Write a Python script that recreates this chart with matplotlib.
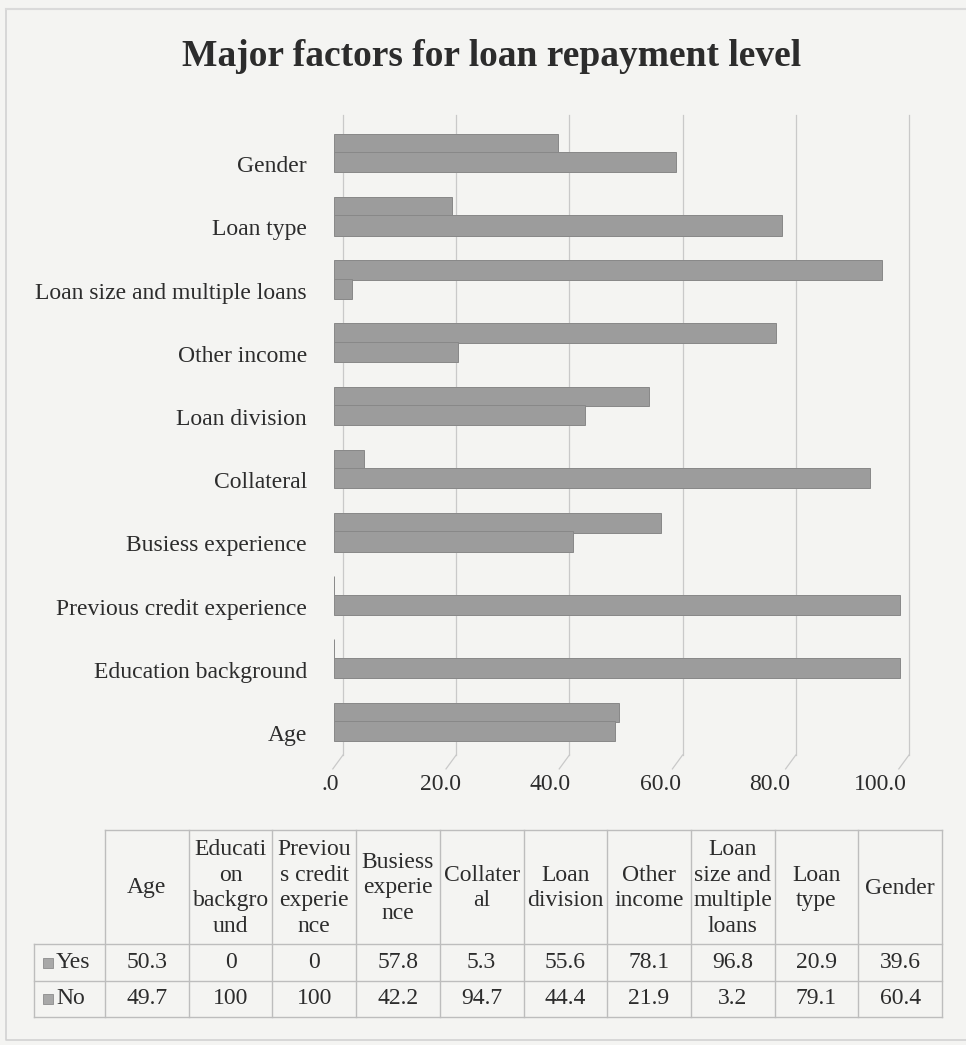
import numpy as np
import matplotlib
matplotlib.use('Agg')
import matplotlib.pyplot as plt

plt.rcParams['font.family'] = ['Liberation Serif', 'DejaVu Serif']

# Datos
factores = ['Age', 'Education background', 'Previous credit experience',
            'Busiess experience', 'Collateral', 'Loan division', 'Other income',
            'Loan size and multiple loans', 'Loan type', 'Gender']
enc_tabla = ['Age', 'Educati\non\nbackgro\nund', 'Previou\ns credit\nexperie\nnce',
             'Busiess\nexperie\nnce', 'Collater\nal', 'Loan\ndivision', 'Other\nincome',
             'Loan\nsize and\nmultiple\nloans', 'Loan\ntype', 'Gender']
yes = [50.3, 0, 0, 57.8, 5.3, 55.6, 78.1, 96.8, 20.9, 39.6]
no = [49.7, 100, 100, 42.2, 94.7, 44.4, 21.9, 3.2, 79.1, 60.4]
yes_txt = ['50.3', '0', '0', '57.8', '5.3', '55.6', '78.1', '96.8', '20.9', '39.6']
no_txt = ['49.7', '100', '100', '42.2', '94.7', '44.4', '21.9', '3.2', '79.1', '60.4']
xticks = [0, 20, 40, 60, 80, 100]
xtick_lab = ['.0', '20.0', '40.0', '60.0', '80.0', '100.0']

fondo = '#f4f4f2'
gris_barra = '#9c9c9c'
gris_borde = '#888888'
gris_linea = '#c9c9c9'
txt_col = '#2c2c2c'

W, H = 966, 1045
fig = plt.figure(figsize=(W / 100, H / 100), dpi=100)
fig.patch.set_facecolor(fondo)

# capa en pixeles para titulo, marco y tabla
ov = fig.add_axes([0, 0, 1, 1])
ov.set_xlim(0, W)
ov.set_ylim(H, 0)
ov.axis('off')
ov.patch.set_alpha(0)

ov.plot([6, 6, W + 5], [9, 1040, 1040], color='#d2d2d2', lw=1.2)
ov.plot([6, W + 5], [9, 9], color='#dadada', lw=1.5)

ov.text(492, 56, 'Major factors for loan repayment level', ha='center', va='center',
        fontsize=27, fontweight='bold', color=txt_col)

# Grafico de barras
pos = np.arange(len(factores))
ax = fig.add_axes([343 / W, 1 - 755 / H, 566 / W, 640 / H])
ax.patch.set_alpha(0)
for s in ax.spines.values():
    s.set_visible(False)
ax.set_xlim(0, 100)
ax.set_ylim(-0.35, 9.78)

ybot = -0.35
for v, lab in zip(xticks, xtick_lab):
    ax.plot([v, v], [ybot, 9.78], color=gris_linea, lw=0.9, zorder=0, clip_on=False)
    ax.plot([v, v - 1.8], [ybot, ybot - 0.22], color=gris_linea, lw=0.9, zorder=0,
            clip_on=False)
    ax.text(-2.3 + 0.972 * v, -0.82, lab, ha='center', va='center', fontsize=17,
            color=txt_col)

desp = -1.6
b1 = ax.barh(pos + 0.325, yes, height=0.31, left=desp, color=gris_barra,
             edgecolor=gris_borde, linewidth=0.7, zorder=2)
b2 = ax.barh(pos + 0.03, no, height=0.32, left=desp, color=gris_barra,
             edgecolor=gris_borde, linewidth=0.7, zorder=3)
for r in list(b1) + list(b2):
    r.set_clip_on(False)

ax.set_xticks([])
ax.set_yticks(pos)
ax.set_yticklabels(factores, fontsize=17, color=txt_col)
ax.tick_params(axis='y', length=0, pad=26)

# Tabla de datos
x0, x1 = 105, 942
anc = (x1 - x0) / len(factores)
y_top, y_hdr, y_yes, y_no = 830, 944, 981, 1017
lc = '#bdbdbd'
for k in range(len(factores) + 1):
    xx = x0 + k * anc
    ov.plot([xx, xx], [y_top, y_no], color=lc, lw=1)
ov.plot([34, 34], [y_hdr, y_no], color=lc, lw=1)
ov.plot([x0, x1], [y_top, y_top], color=lc, lw=1)
for yy in (y_hdr, y_yes, y_no):
    ov.plot([34, x1], [yy, yy], color=lc, lw=1)

for k, (h, a, b) in enumerate(zip(enc_tabla, yes_txt, no_txt)):
    xc = x0 + (k + 0.5) * anc
    ov.text(xc, (y_top + y_hdr) / 2 + 1, h, ha='center', va='center', fontsize=17,
            color=txt_col, linespacing=1.3)
    ov.text(xc, (y_hdr + y_yes) / 2, a, ha='center', va='center', fontsize=17,
            color=txt_col)
    ov.text(xc, (y_yes + y_no) / 2, b, ha='center', va='center', fontsize=17,
            color=txt_col)

for nom, yy in (('Yes', (y_hdr + y_yes) / 2), ('No', (y_yes + y_no) / 2)):
    ov.add_patch(plt.Rectangle((43, yy - 5), 10, 10, facecolor='#a8a8a8',
                               edgecolor='#8c8c8c', lw=0.6))
    ov.text(56, yy, nom, ha='left', va='center', fontsize=17, color=txt_col)

fig.savefig('out.png', dpi=100, facecolor=fondo)
